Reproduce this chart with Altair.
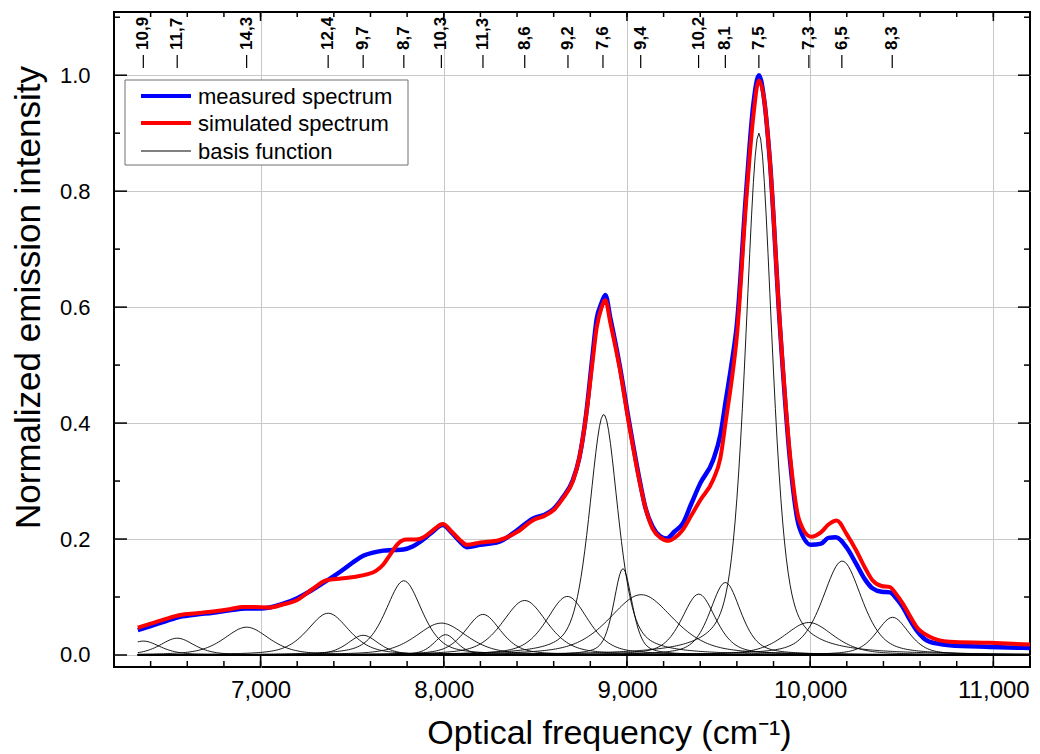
import altair as alt
import pandas as pd
import numpy as np

# ---------------- data ----------------
meas_freq = [6330, 6400, 6480, 6560, 6650, 6740, 6830, 6920, 7000, 7050,
             7120, 7200, 7270, 7340, 7400, 7450, 7510, 7560, 7620, 7670,
             7720, 7780, 7830, 7870, 7930, 7995, 8040, 8090, 8125, 8200,
             8300, 8400, 8490, 8550, 8600, 8650, 8705, 8740, 8778, 8810,
             8835, 8860, 8882, 8910, 8960, 9010, 9070, 9100, 9140, 9180,
             9215, 9260, 9305, 9350, 9400, 9470, 9510, 9540, 9570, 9600,
             9650, 9690, 9720, 9750, 9780, 9835, 9890, 9940, 10005, 10060,
             10100, 10140, 10200, 10250, 10300, 10340, 10390, 10435, 10470, 10505,
             10540, 10580, 10650, 10760, 10980, 11200]
meas_val = [0.043, 0.050, 0.058, 0.066, 0.070, 0.073, 0.077, 0.080, 0.080, 0.082,
            0.088, 0.098, 0.110, 0.124, 0.136, 0.147, 0.161, 0.171, 0.177, 0.180,
            0.181, 0.182, 0.187, 0.195, 0.210, 0.224, 0.212, 0.195, 0.186, 0.190,
            0.195, 0.215, 0.236, 0.242, 0.252, 0.272, 0.302, 0.340, 0.417, 0.510,
            0.580, 0.606, 0.621, 0.580, 0.500, 0.405, 0.300, 0.255, 0.221, 0.205,
            0.201, 0.213, 0.227, 0.260, 0.296, 0.336, 0.380, 0.440, 0.500, 0.570,
            0.796, 0.950, 1.000, 0.955, 0.853, 0.566, 0.336, 0.221, 0.190, 0.192,
            0.202, 0.203, 0.185, 0.158, 0.130, 0.115, 0.109, 0.108, 0.098, 0.083,
            0.063, 0.043, 0.023, 0.017, 0.014, 0.012]

sim_freq = [6330, 6400, 6480, 6560, 6650, 6740, 6830, 6905, 6960, 7050,
            7120, 7200, 7280, 7360, 7440, 7520, 7580, 7630, 7670, 7705,
            7750, 7795, 7850, 7890, 7940, 7995, 8040, 8090, 8125, 8200,
            8300, 8400, 8490, 8550, 8600, 8650, 8705, 8740, 8778, 8810,
            8835, 8860, 8882, 8910, 8960, 9010, 9070, 9100, 9140, 9180,
            9230, 9260, 9305, 9350, 9400, 9470, 9510, 9540, 9570, 9600,
            9650, 9690, 9720, 9750, 9780, 9835, 9890, 9940, 10005, 10060,
            10100, 10145, 10200, 10250, 10300, 10340, 10390, 10435, 10470, 10505,
            10540, 10580, 10650, 10760, 10980, 11200]
sim_val = [0.047, 0.054, 0.062, 0.069, 0.072, 0.075, 0.079, 0.083, 0.083, 0.082,
           0.087, 0.095, 0.113, 0.129, 0.132, 0.135, 0.139, 0.145, 0.156, 0.172,
           0.192, 0.199, 0.199, 0.203, 0.215, 0.226, 0.214, 0.198, 0.190, 0.194,
           0.198, 0.212, 0.233, 0.240, 0.250, 0.270, 0.300, 0.340, 0.415, 0.500,
           0.565, 0.598, 0.612, 0.572, 0.495, 0.400, 0.297, 0.255, 0.218, 0.203,
           0.197, 0.202, 0.216, 0.240, 0.267, 0.302, 0.340, 0.405, 0.470, 0.550,
           0.780, 0.930, 0.991, 0.955, 0.853, 0.570, 0.345, 0.233, 0.204, 0.212,
           0.225, 0.232, 0.208, 0.181, 0.150, 0.129, 0.119, 0.117, 0.105, 0.089,
           0.070, 0.049, 0.032, 0.023, 0.021, 0.018]

# basis functions: peak centre (cm-1), peak height, full width at half maximum (cm-1)
basis_center = [6360, 6545, 6924, 7369, 7560, 7782, 7987, 8010, 8214, 8442,
                8675, 8873, 8978, 9078, 9392, 9537, 9720, 9993, 10175, 10450]
basis_height = [0.024, 0.029, 0.048, 0.072, 0.034, 0.128, 0.055, 0.035, 0.070, 0.094,
                0.101, 0.415, 0.149, 0.104, 0.105, 0.125, 0.900, 0.056, 0.162, 0.065]
basis_fwhm = [220, 220, 290, 270, 200, 235, 330, 150, 230, 290,
              270, 185, 120, 420, 220, 200, 172, 320, 255, 210]

top_labels = ["10,9", "11,7", "14,3", "12,4", "9,7", "8,7", "10,3", "11,3", "8,6",
              "9,2", "7,6", "9,4", "10,2", "8,1", "7,5", "7,3", "6,5", "8,3"]
top_label_freq = [6360, 6545, 6924, 7369, 7560, 7782, 7987, 8214, 8442,
                  8678, 8869, 9075, 9391, 9537, 9720, 9993, 10173, 10448]

x_major = [7000, 8000, 9000, 10000, 11000]
x_minor = list(range(6400, 11200, 200))
y_major = [0.0, 0.2, 0.4, 0.6, 0.8, 1.0]
y_minor = [0.1, 0.3, 0.5, 0.7, 0.9, 1.1]

legend_labels = ["measured spectrum", "simulated spectrum", "basis function"]
legend_colors = ["#0000ff", "#ff0000", "#000000"]

# ---------------- layout ----------------
W, H = 916, 655
FONT = "Liberation Sans"
xs = alt.Scale(domain=[6200, 11200], nice=False, zero=False)
ys = alt.Scale(domain=[-0.0207, 1.109], nice=False, zero=False)

# basis curves (pseudo-Voigt peaks from read parameters)
grid = np.arange(6330, 11201, 10)
rows = []
for i, (c, h, w) in enumerate(zip(basis_center, basis_height, basis_fwhm)):
    d = (grid - c) / (w / 2.0)
    lor = 1.0 / (1.0 + d ** 2)
    gau = np.exp(-np.log(2) * d ** 2)
    v = h * (0.5 * lor + 0.5 * gau)
    rows.append(pd.DataFrame({"f": grid, "v": v, "b": i}))
basis_df = pd.concat(rows, ignore_index=True)

meas_df = pd.DataFrame({"f": meas_freq, "v": meas_val})
sim_df = pd.DataFrame({"f": sim_freq, "v": sim_val})
top_df = pd.DataFrame({"f": top_label_freq, "t": top_labels})
one = pd.DataFrame({"a": [0]})

x_axis = alt.Axis(values=x_major, format=",d", grid=True, gridColor="#c8c8c8", gridWidth=1,
                  ticks=False, domain=False, labelFont=FONT, labelFontSize=24, labelColor="black",
                  labelPadding=11, title="Optical frequency (cm⁻¹)", titleFont=FONT,
                  titleFontSize=34, titleFontWeight="normal", titleColor="black",
                  titleX=495, titleY=76, titleAlign="center", titleBaseline="alphabetic")
y_axis = alt.Axis(values=y_major, format=".1f", grid=True, gridColor="#c8c8c8", gridWidth=1,
                  ticks=False, domain=False, labelFont=FONT, labelFontSize=22, labelColor="black",
                  labelPadding=24, title="Normalized emission intensity", titleFont=FONT,
                  titleFontSize=35, titleFontWeight="normal", titleColor="black",
                  titleAngle=270, titleX=-86, titleY=285, titleAlign="center",
                  titleBaseline="middle")


def X(field):
    return alt.X(field, type="quantitative", scale=xs, axis=x_axis)


def Y(field):
    return alt.Y(field, type="quantitative", scale=ys, axis=y_axis)


basis = alt.Chart(basis_df).mark_line(color="black", strokeWidth=0.9).encode(
    x=X("f"), y=Y("v"), detail="b:N")
meas = alt.Chart(meas_df).mark_line(color="#0000ff", strokeWidth=4.5, interpolate="monotone").encode(
    x=X("f"), y=Y("v"))
sim = alt.Chart(sim_df).mark_line(color="#ff0000", strokeWidth=4, interpolate="monotone").encode(
    x=X("f"), y=Y("v"))

layers = [basis, meas, sim]


# tick marks (inward) on all four sides
def xticks(vals, y0, y1):
    return alt.Chart(pd.DataFrame({"f": vals})).mark_rule(color="black", strokeWidth=1.5).encode(
        x=X("f"), y=alt.value(y0), y2=alt.value(y1))


def yticks(vals, x0, x1):
    return alt.Chart(pd.DataFrame({"v": vals})).mark_rule(color="black", strokeWidth=1.5).encode(
        y=Y("v"), x=alt.value(x0), x2=alt.value(x1))


layers += [xticks(x_minor, H, H - 6), xticks(x_major, H, H - 11),
           xticks(x_minor, 0, 5), xticks(x_major, 0, 9),
           yticks(y_minor, 0, 6), yticks(y_major, 0, 13),
           yticks(y_minor, W, W - 6), yticks(y_major, W, W - 12)]

# top chirality labels
dash = alt.Chart(top_df).mark_rule(color="black", strokeWidth=1.2).encode(
    x=X("f"), y=alt.value(43), y2=alt.value(56))
lab = alt.Chart(top_df).mark_text(angle=270, align="left", baseline="middle", font=FONT,
                                  fontSize=17, fontWeight="bold", color="black").encode(
    x=X("f"), y=alt.value(38), text="t:N")
layers += [dash, lab]

# legend
box = alt.Chart(one).mark_rect(fill="white", stroke="#707070", strokeWidth=1).encode(
    x=alt.value(11), x2=alt.value(294), y=alt.value(68), y2=alt.value(153))
layers.append(box)
leg_y = [84, 111, 139]
leg_w = [4, 4, 1]
for lbl, col, yy, ww in zip(legend_labels, legend_colors, leg_y, leg_w):
    layers.append(alt.Chart(one).mark_rule(color=col, strokeWidth=ww).encode(
        x=alt.value(27), x2=alt.value(77), y=alt.value(yy)))
    layers.append(alt.Chart(one).mark_text(align="left", baseline="middle", font=FONT,
                                           fontSize=22, color="black", text=lbl).encode(
        x=alt.value(84), y=alt.value(yy + 1)))

chart = alt.layer(*layers).properties(
    width=W, height=H,
    autosize=alt.AutoSizeParams(type="none"),
    padding={"left": 106, "top": 4, "right": 2, "bottom": 86},
).configure_view(stroke="black", strokeWidth=2)

chart.save("out.html", embed_options={"renderer": "svg", "actions": False})
